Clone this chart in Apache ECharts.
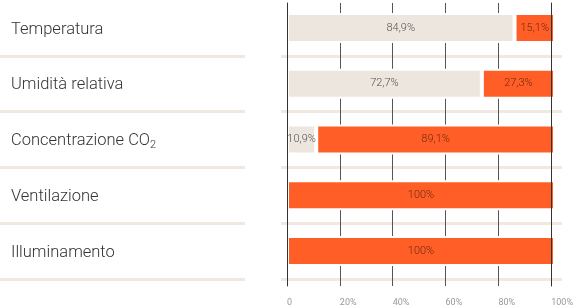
<!DOCTYPE html>
<html>
<head>
<meta charset="utf-8">
<script src="https://cdn.jsdelivr.net/npm/echarts@6/dist/echarts.min.js"></script>
<style>
html,body{margin:0;padding:0;background:#fff;}
#chart{width:576px;height:307px;}
</style>
</head>
<body>
<div id="chart"></div>
<script>
var categories = ['Temperatura', 'Umidità relativa', 'Concentrazione CO₂', 'Ventilazione', 'Illuminamento'];
var beigeValues = [84.9, 72.7, 10.9, 0, 0];
var orangeValues = [15.1, 27.3, 89.1, 100, 100];
var xTicks = [0, 20, 40, 60, 80, 100];

var BEIGE = '#ece6df', ORANGE = '#ff5f27', SEP = '#efe9e1';
var FONT = 'Roboto';

function pct(v) {
  return (Number.isInteger(v) ? String(v) : String(v).replace('.', ',')) + '%';
}
function toBar(arr) { return arr.map(function (v) { return v > 0 ? v : null; }); }

var chart = echarts.init(document.getElementById('chart'), null, {renderer: 'canvas'});
var sepLine = {show: true, lineStyle: {color: SEP, width: 3}, interval: function (i) { return i > 0; }};

chart.setOption({
  animation: false,
  grid: [
    {left: 287, width: 268, top: 0, height: 279},          // bars
    {left: 281, right: 14, top: 0, height: 279},           // right separators
    {left: 0, width: 245, top: 0, height: 279},            // labels + left separators
    {left: 287, width: 268, top: 3, bottom: 20}            // vertical grid lines
  ],
  xAxis: [
    {gridIndex: 0, type: 'value', min: 0, max: 100, show: false},
    {gridIndex: 1, type: 'value', min: 0, max: 100, show: false},
    {gridIndex: 2, type: 'value', min: 0, max: 100, show: false},
    {gridIndex: 3, type: 'value', min: 0, max: 100, interval: 20,
      axisLine: {show: false}, axisTick: {show: false},
      splitLine: {show: true, lineStyle: {color: '#555', width: 1}},
      axisLabel: {color: '#999', fontFamily: FONT, fontSize: 9, align: 'left', margin: 12,
        formatter: function (v) { return xTicks.indexOf(v) >= 0 ? (v === 0 ? '0' : v + '%') : ''; }}
    }
  ],
  yAxis: [
    {gridIndex: 0, type: 'category', data: categories, inverse: true, show: false},
    {gridIndex: 1, type: 'category', data: categories, inverse: true,
      axisLine: {show: false}, axisTick: {show: false}, axisLabel: {show: false}, splitLine: sepLine},
    {gridIndex: 2, type: 'category', data: categories, inverse: true,
      axisLine: {show: false}, axisTick: {show: false}, splitLine: sepLine,
      axisLabel: {inside: true, margin: 11, color: '#333', fontFamily: FONT, fontSize: 16.5, fontWeight: 300,
        padding: [3, 0, 0, 0],
        formatter: function (v) { return v.replace('₂', '{sub|2}'); },
        rich: {sub: {fontFamily: FONT, fontSize: 11, fontWeight: 300, color: '#333', padding: [9, 0, 0, 0]}}
      }},
    {gridIndex: 3, type: 'value', position: 'left', z: 10,
      axisLine: {show: true, lineStyle: {color: '#333', width: 1}}, axisTick: {show: false},
      axisLabel: {show: false}, splitLine: {show: false}},
    {gridIndex: 3, type: 'value', position: 'right', z: 10,
      axisLine: {show: true, lineStyle: {color: '#333', width: 1}}, axisTick: {show: false},
      axisLabel: {show: false}, splitLine: {show: false}}
  ],
  series: [
    {type: 'bar', xAxisIndex: 0, yAxisIndex: 0, stack: 'a', barWidth: 30, data: toBar(beigeValues),
      itemStyle: {color: BEIGE, borderColor: '#fff', borderWidth: 2},
      label: {show: true, position: 'inside', color: '#555', fontFamily: FONT, fontSize: 11, fontWeight: 300,
        formatter: function (p) { return pct(p.value); }}},
    {type: 'bar', xAxisIndex: 0, yAxisIndex: 0, stack: 'a', barWidth: 30, data: toBar(orangeValues),
      itemStyle: {color: ORANGE, borderColor: '#fff', borderWidth: 2},
      label: {show: true, position: 'inside', color: '#6e2a10', fontFamily: FONT, fontSize: 11, fontWeight: 300,
        formatter: function (p) { return pct(p.value); }}}
  ]
});
</script>
</body>
</html>
